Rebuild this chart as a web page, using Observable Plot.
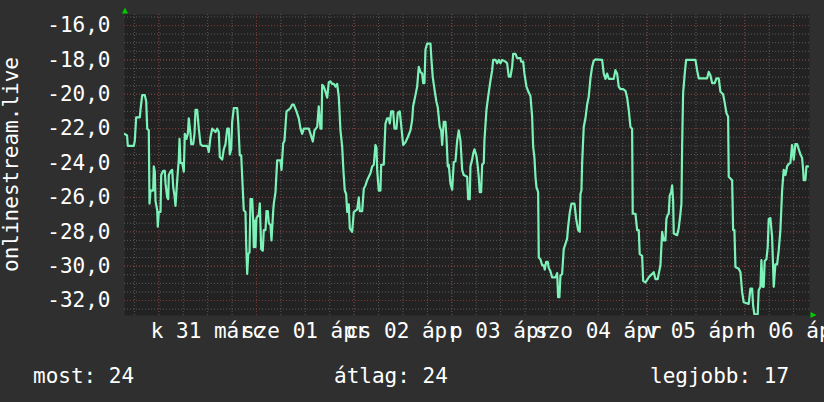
<!DOCTYPE html>
<html>
<head>
<meta charset="utf-8">
<script src="https://cdn.jsdelivr.net/npm/d3@7"></script>
<script src="https://cdn.jsdelivr.net/npm/@observablehq/plot@0.6"></script>
<style>
  html, body { margin: 0; padding: 0; background: #2f2f2f; }
  #chart { width: 824px; height: 402px; position: relative; }
</style>
</head>
<body>
<div id="chart"></div>
<script>
// Hours since 2020-03-31 00:00 (k 31 márc) and the plotted value
const hours = [
  -8.43,-7.8,-7.62,-6.14,-5.9,-5.56,-4.67,-4.5,-4.08,-3.44,-3.1,-2.85,-2.46,-2.29,-2.04,-1.38,-1.23,-0.98,-0.81,-0.39,-0.25,
  0,0.42,0.59,1.08,1.47,1.65,2.06,2.31,2.46,2.87,3.29,3.54,3.86,4.1,4.52,4.91,5.09,5.33,5.75,6.14,6.39,6.8,7.13,7.37,7.79,7.96,
  8.45,8.77,9.02,9.43,9.83,10.25,10.66,11.89,12.29,12.7,13.12,13.93,14.35,14.74,14.99,15.58,15.97,16.39,16.81,17.2,17.44,17.79,
  18.03,18.43,19.26,19.51,19.9,20.25,20.49,20.88,21.3,21.47,21.72,21.97,22.29,22.53,22.95,23.19,23.34,23.59,23.76,
  24.0,24.57,24.82,25.16,25.55,25.8,26.22,26.46,26.78,27.03,27.44,27.69,28.11,28.26,28.67,29.09,29.9,30.15,30.57,30.88,31.38,
  31.94,32.36,32.78,33.17,33.83,34.4,34.82,35.23,35.63,36.86,37.27,37.84,38.26,38.92,39.31,39.73,39.98,40.15,40.54,40.96,41.38,
  41.77,42.19,42.6,43.0,43.42,43.83,44.23,44.64,45.06,45.38,45.7,46.04,46.29,46.68,46.93,47.52,47.91,
  48.75,49.14,49.39,49.98,50.37,50.79,51.2,51.6,52.01,52.43,52.83,53.24,53.49,53.66,54.05,54.47,54.64,55.28,55.7,56.12,56.51,
  56.76,57.1,57.59,57.91,58.4,58.72,59.21,59.56,60.05,60.61,61.18,61.84,62.26,62.5,63.07,63.49,63.88,64.3,64.72,64.96,65.28,
  65.53,65.95,66.76,67.0,67.32,67.74,68.23,68.55,69.04,69.39,69.63,70.02,70.44,70.69,71.01,71.25,71.67,
  72.09,72.48,72.9,73.32,73.71,74.13,74.55,74.94,75.77,76.02,76.41,76.58,77.0,77.25,77.57,78.06,78.38,78.62,78.87,79.21,79.46,
  79.85,80.02,80.52,80.93,81.5,81.92,82.16,82.73,83.14,83.54,83.96,84.37,85.18,85.6,85.99,86.41,86.83,87.08,87.64,88.06,88.87,
  89.04,89.53,89.85,90.34,90.91,91.33,91.74,91.99,92.31,92.56,92.8,93.22,93.37,93.78,94.2,94.59,94.84,95.18,95.58,95.82,
  96.24,96.66,97.47,97.89,98.13,98.45,98.7,99.11,99.51,99.93,100.34,100.59,100.98,101.4,102.14,102.56,103.05,103.44,103.61,
  103.86,104.03,104.42,104.84,105.26,105.65,106.07,106.49,106.88,107.3,108.94,109.34,109.75,110.17,110.57,111.79,112.21,112.63,
  113.02,113.44,114.1,114.67,115.09,115.48,115.9,116.31,116.46,117.13,117.54,117.94,118.18,118.77,119.02,119.58,
  120.39,121.23,121.62,122.04,122.6,122.85,123.27,123.69,124.08,124.5,124.74,125.06,125.31,125.55,125.9,126.14,126.39,126.54,
  127.37,127.76,128.18,128.43,128.6,128.84,129.24,129.58,131.87,132.28,132.68,134.74,135.13,135.55,135.97,136.61,137.03,137.59,
  138.01,138.67,139.07,139.49,139.9,140.05,140.89,141.13,141.45,141.7,142.51,142.93,143.34,143.73,
  144.96,145.38,145.8,146.04,146.36,147.17,147.42,147.84,148.08,148.4,148.65,148.89,149.31,149.63,149.88,150.29,150.71,151.11,
  151.52,151.94,152.33,152.75,153.17,153.56,153.98,154.39,154.79,155.2,155.62,156.02,156.43,156.85,157.25,157.67,158.08,158.33,
  158.48,158.89,159.14,159.56
];
const values = [
  -22.3,-22.4,-23.0,-23.0,-22.7,-21.35,-21.35,-20.9,-20.05,-20.05,-20.4,-22.0,-22.1,-26.36,-25.6,-25.6,-24.2,-24.5,-26.2,-26.75,-27.7,
  -26.85,-26.85,-24.7,-24.45,-24.45,-25.2,-26.0,-26.1,-24.7,-24.5,-24.4,-25.4,-25.9,-26.5,-25.0,-23.8,-22.6,-24.0,-24.0,-24.5,-22.3,-22.6,-22.3,-21.4,-22.3,-22.9,
  -22.9,-22.3,-20.9,-20.9,-22.0,-22.9,-23.0,-23.0,-23.35,-22.5,-22.0,-22.2,-22.0,-22.2,-23.65,-23.8,-23.2,-22.9,-22.0,-22.0,-23.5,-23.2,
  -21.6,-20.8,-20.8,-21.6,-23.55,-23.55,-24.8,-26.75,-26.85,-28.7,-30.45,-29.3,-29.2,-26.1,-26.1,-27.35,-28.9,-27.35,-28.9,
  -27.2,-27.0,-26.35,-29.0,-29.1,-27.9,-27.9,-26.8,-26.8,-27.5,-27.6,-28.5,-26.8,-26.36,-25.7,-23.85,-23.85,-24.4,-22.85,-22.7,-21.0,
  -20.9,-20.8,-20.6,-20.6,-21.0,-21.4,-22.0,-22.3,-22.0,-22.0,-22.3,-22.75,-22.1,-21.9,-20.7,-22.0,-22.0,-19.45,-19.55,-19.85,-20.2,
  -19.3,-19.25,-19.4,-19.4,-19.55,-19.4,-20.15,-22.1,-23.05,-24.5,-25.6,-25.8,-26.85,-26.4,-27.8,-28.0,-26.85,
  -26.7,-26.0,-26.8,-26.8,-25.5,-25.3,-25.0,-24.8,-24.6,-24.2,-24.1,-22.95,-23.1,-24.4,-25.6,-25.6,-24.1,-24.1,-21.7,-21.4,-21.4,
  -21.7,-21.0,-21.0,-22.0,-22.0,-21.1,-21.0,-21.8,-22.95,-22.8,-22.5,-22.1,-21.5,-20.7,-20.05,-19.55,-18.4,-18.7,-18.8,-19.35,-19.35,
  -17.4,-17.05,-17.05,-18.0,-19.0,-19.7,-20.45,-20.75,-21.9,-22.1,-22.95,-21.6,-21.6,-22.5,-24.2,-24.1,-25.2,
  -25.55,-23.95,-23.9,-22.7,-22.1,-22.7,-24.4,-24.7,-24.8,-26.1,-26.1,-24.2,-23.8,-23.45,-23.2,-23.6,-24.2,-24.8,-25.7,-25.7,-24.1,
  -24.0,-22.7,-20.9,-20.15,-19.2,-18.6,-18.0,-18.0,-18.2,-18.0,-18.2,-18.0,-18.1,-18.2,-18.98,-18.98,-18.4,-17.65,-17.65,-17.9,-17.9,
  -18.1,-18.1,-18.8,-19.55,-19.9,-20.1,-21.3,-23.05,-23.7,-24.8,-25.4,-25.7,-29.5,-29.6,-29.95,-29.95,-30.2,-29.75,-29.75,-30.1,
  -30.3,-30.65,-30.65,-30.4,-31.8,-31.8,-30.55,-30.45,-29.0,-28.7,-28.4,-27.7,-26.9,-26.36,-26.36,-27.24,-27.9,-28.0,-25.8,
  -25.6,-24.0,-21.9,-21.4,-20.6,-20.15,-19.07,-18.4,-18.05,-17.97,-18.0,-18.8,-19.1,-18.8,-19.1,-19.1,-18.6,-18.8,
  -19.55,-19.7,-19.7,-19.8,-20.2,-20.9,-21.9,-22.0,-26.95,-26.95,-27.9,-27.9,-29.3,-29.4,-30.85,-30.95,
  -30.65,-30.45,-30.35,-30.75,-30.75,-30.45,-29.95,-28.0,-28.5,-28.5,-27.25,-27.0,-26.95,-25.9,-25.7,-25.3,-26.2,-28.1,
  -28.2,-27.8,-26.95,-26.36,-23.05,-19.95,-18.8,-18.0,-18.0,-18.6,-19.07,-19.07,-18.7,-18.9,-19.35,-19.35,-19.07,-19.07,
  -19.85,-20.0,-20.5,-21.1,-21.3,-24.8,-25.0,-27.9,-27.9,-30.05,-30.15,-30.35,-31.5,-32.1,
  -32.2,-31.3,-31.3,-32.3,-32.8,-32.8,-31.4,-31.2,-29.65,-31.2,-31.2,-29.7,-29.6,-28.9,-27.25,-27.2,-28.3,-31.2,
  -29.9,-29.9,-29.1,-27.9,-25.6,-24.4,-24.7,-24.2,-24.05,-24.0,-22.95,-23.8,-22.9,-22.9,-23.2,-23.5,-23.7,-24.4,
  -25.0,-25.0,-24.2,-24.2
];

// Axis ticks and labels
const yTicks = [-32, -30, -28, -26, -24, -22, -20, -18, -16];
const dayLabels = ["k 31 márc", "sze 01 ápr", "cs 02 ápr", "p 03 ápr", "szo 04 ápr", "v 05 ápr", "h 06 ápr"];
const labelHours = [12, 36, 60, 84, 108, 132, 156];
const majorX = [0, 24, 48, 72, 96, 120, 144];
const minorX = d3.range(-6, 160, 6);
const minorY = d3.range(-32.5, -15.4, 0.5);
const xDomain = [-8.43, 159.9];
const yDomain = [-32.87, -15.36];
const seriesName = "onlinestream.live";
const footer = [["most:", "24"], ["átlag:", "24"], ["legjobb:", "17"]];

const data = hours.map((h, i) => ({h, v: values[i]}));
const labelOf = new Map(labelHours.map((h, i) => [h, dayLabels[i]]));

const FONT = "'DejaVu Sans Mono', monospace";
const dots = "1,2";

const chart = Plot.plot({
  width: 824,
  height: 402,
  marginLeft: 124,
  marginRight: 15,
  marginTop: 14,
  marginBottom: 87,
  style: {background: "#2f2f2f", color: "#ffffff", fontFamily: FONT, fontSize: "21px"},
  x: {type: "linear", domain: xDomain, axis: null, label: null},
  y: {type: "linear", domain: yDomain, axis: null, label: null},
  marks: [
    Plot.frame({fill: "#222222", stroke: null}),
    Plot.gridY(minorY, {stroke: "#5a5a5a", strokeOpacity: 1, strokeDasharray: dots}),
    Plot.gridX(minorX, {stroke: "#5a5a5a", strokeOpacity: 1, strokeDasharray: dots}),
    Plot.gridY(yTicks, {stroke: "#7e3838", strokeOpacity: 1, strokeDasharray: dots}),
    Plot.gridX(majorX, {stroke: "#7e3838", strokeOpacity: 1, strokeDasharray: dots}),
    Plot.line(data, {x: "h", y: "v", stroke: "#7cf2b8", strokeWidth: 2.2, clip: true}),
    Plot.axisY(yTicks, {
      tickSize: 0, tickPadding: 14, label: null, fontSize: 21, fontFamily: FONT, fill: "#ffffff",
      tickFormat: d => d.toFixed(1).replace(".", ",")
    }),
    Plot.axisX(labelHours, {
      tickSize: 0, tickPadding: 8, label: null, fontSize: 21, fontFamily: FONT, fill: "#ffffff",
      tickFormat: d => labelOf.get(d)
    })
  ]
});

const root = document.getElementById("chart");
root.appendChild(chart);

const svg = d3.select(chart);
// rotated series label
svg.append("text")
  .attr("transform", "translate(18,164.5) rotate(-90)")
  .attr("text-anchor", "middle")
  .attr("fill", "#ffffff")
  .style("font-family", FONT).style("font-size", "21px")
  .text(seriesName);

// footer summary
const fx = [33, 334, 650];
footer.forEach(([k, v], i) => {
  svg.append("text")
    .attr("x", fx[i]).attr("y", 383)
    .attr("text-anchor", "start")
    .attr("fill", "#ffffff")
    .style("font-family", FONT).style("font-size", "21px")
    .text(k + " " + v);
});

// axis arrows (rrdtool style)
svg.append("path").attr("d", "M122,13.5 L125,7.5 L128,13.5 Z").attr("fill", "#00cc00");
svg.append("path").attr("d", "M810.5,312 L816.5,315 L810.5,318 Z").attr("fill", "#00cc00");
</script>
</body>
</html>
